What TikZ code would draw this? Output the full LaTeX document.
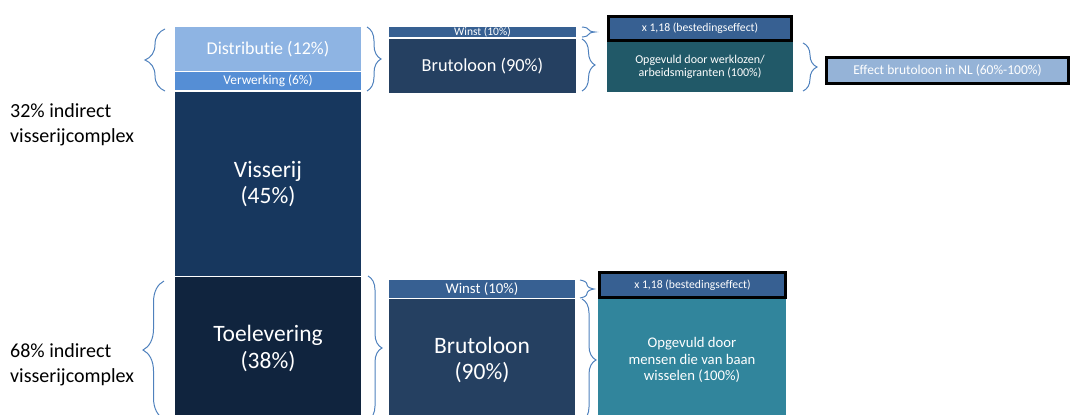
\documentclass[tikz,border=0pt]{standalone}
\usepackage{fontspec}
\setmainfont{Carlito}[Ligatures=NoCommon]
\usetikzlibrary{calc, decorations.pathreplacing}

\definecolor{distrblue}{HTML}{8EB4E3}
\definecolor{verwblue}{HTML}{558ED5}
\definecolor{vissblue}{HTML}{17375E}
\definecolor{toelblue}{HTML}{10243E}
\definecolor{winstblue}{HTML}{376092}
\definecolor{brutoblue}{HTML}{254061}
\definecolor{opgdark}{HTML}{215968}
\definecolor{opgteal}{HTML}{31859C}
\definecolor{effectblue}{HTML}{95B3D7}
\definecolor{braceblue}{HTML}{4F81BD}

\begin{document}
\begin{tikzpicture}[
        x=1pt, y=-1pt,
        blok/.style={rectangle, inner sep=0pt, outer sep=0pt, anchor=north west, text=white, align=center},
        omlijnd/.style={blok, draw=black, line width=3pt, outer sep=1.5pt},
        haak/.style={draw=braceblue, line width=1pt, decorate, decoration={brace, amplitude=#1}},
        haak/.default=14pt,
        kant/.style={anchor=west, align=left, inner sep=0pt, font=\fontsize{20}{24.5}\selectfont}
    ]
        \useasboundingbox (0,0) rectangle (1071,415);
        \clip (0,0) rectangle (1071,415);

        % Left column (stack)
        \node[blok, fill=distrblue, minimum width=186pt, minimum height=44pt, font=\fontsize{18}{20}\selectfont] (distr) at (175,27) {Distributie (12\%)};
        \node[blok, fill=verwblue, minimum width=186pt, minimum height=18pt, font=\fontsize{13.4}{15}\selectfont] (verw) at (175,72) {Verwerking (6\%)};
        \node[blok, fill=vissblue, minimum width=186pt, minimum height=184pt, font=\fontsize{23.5}{25.5}\selectfont] (viss) at (175,92) {Visserij\\(45\%)};
        \node[blok, fill=toelblue, minimum width=186pt, minimum height=143pt, font=\fontsize{23.5}{26.5}\selectfont] (toel) at (175,277) {Toelevering\\(38\%)};

        % Side labels
        \node[kant] (indirA) at (10,125) {32\% indirect\\visserijcomplex};
        \node[kant] (indirB) at (10,365) {68\% indirect\\visserijcomplex};

        % Top row
        \node[blok, fill=winstblue, minimum width=187pt, minimum height=10pt, font=\fontsize{11.5}{12}\selectfont] (winstA) at (389,27) {Winst (10\%)};
        \node[blok, fill=brutoblue, minimum width=187pt, minimum height=54pt, font=\fontsize{18.3}{20}\selectfont] (brutoA) at (389,39) {Brutoloon (90\%)};
        \node[omlijnd, fill=winstblue, minimum width=183pt, minimum height=24pt, font=\fontsize{11.7}{13}\selectfont] (bestA) at (607,15) {x 1,18 (bestedingseffect)};
        \node[blok, fill=opgdark, minimum width=186pt, minimum height=50pt, font=\fontsize{12}{12.5}\selectfont] (opgA) at (607,42) {Opgevuld door werklozen/\\arbeidsmigranten (100\%)};
        \node[omlijnd, fill=effectblue, minimum width=242pt, minimum height=26pt, font=\fontsize{13.5}{15}\selectfont] (effect) at (825,56) {Effect brutoloon in NL (60\%-100\%)};

        % Bottom row
        \node[blok, fill=winstblue, minimum width=186pt, minimum height=18pt, font=\fontsize{14.8}{16}\selectfont] (winstB) at (389,280) {Winst (10\%)};
        \node[blok, fill=brutoblue, minimum width=186pt, minimum height=122pt, font=\fontsize{23.5}{26}\selectfont] (brutoB) at (389,299) {Brutoloon\\(90\%)};
        \node[omlijnd, fill=winstblue, minimum width=186pt, minimum height=25pt, font=\fontsize{11.7}{13}\selectfont] (bestB) at (598,271) {x 1,18 (bestedingseffect)};
        \node[blok, fill=opgteal, minimum width=188pt, minimum height=122pt, font=\fontsize{14.7}{16.5}\selectfont] (opgB) at (598,299) {Opgevuld door\\mensen die van baan\\wisselen (100\%)};

        % Braces
        \draw[haak=20pt] ($(verw.south west)+(-10,1)$) -- ($(distr.north west)+(-10,2)$);
        \draw[haak] ($(distr.north east)+(6,0)$) -- ($(verw.south east)+(6,1)$);
        \draw[haak=13pt] ($(winstA.north east)+(6,0)$) -- ($(winstA.south east)+(6,0)$);
        \draw[haak=13pt] ($(brutoA.north east)+(6,0)$) -- ($(brutoA.south east)+(6,-2)$);
        \draw[haak] ($(opgA.north east)+(10,1)$) -- ($(opgA.south east)+(10,-1)$);
        \draw[haak=21pt] ($(toel.south west)+(-11,-1)$) -- ($(toel.north west)+(-11,4)$);
        \draw[haak] ($(toel.north east)+(7,-1)$) -- ($(toel.south east)+(7,0)$);
        \draw[haak] ($(winstB.north east)+(5,0)$) -- ($(winstB.south east)+(5,0)$);
        \draw[haak] ($(brutoB.north east)+(7,0)$) -- ($(brutoB.south east)+(7,0)$);
    \end{tikzpicture}
\end{document}
